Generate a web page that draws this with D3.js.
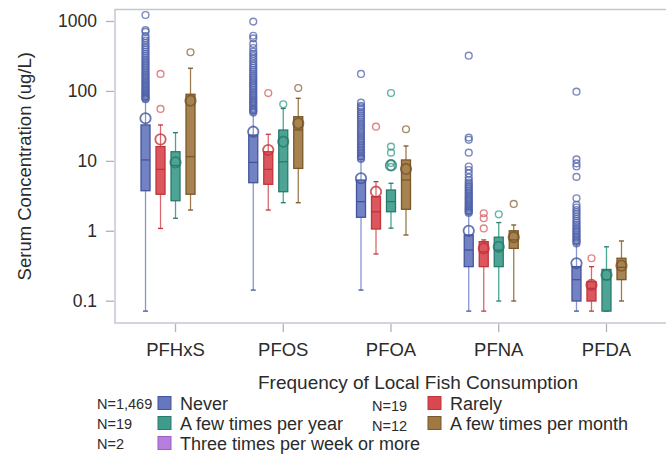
<!DOCTYPE html>
<html>
<head>
<meta charset="utf-8">
<script src="https://cdn.jsdelivr.net/npm/d3@7/dist/d3.min.js"></script>
<style>
  html, body { margin: 0; padding: 0; background: #fff; }
  svg { display: block; font-family: "Liberation Sans", Arial, sans-serif; }
</style>
</head>
<body>
<svg id="chart" width="666" height="458"></svg>
<script>
// Serum PFAS concentrations by frequency of local fish consumption

const compounds = ["PFHxS", "PFOS", "PFOA", "PFNA", "PFDA"];
const groups = ["Never", "Rarely", "A few times per year", "A few times per month", "Three times per week or more"];
const groupN = ["N=1,469", "N=19", "N=19", "N=12", "N=2"];
const yTicks = [0.1, 1, 10, 100, 1000];
const yTickLabels = ["0.1", "1", "10", "100", "1000"];

// Box statistics per compound: [lower whisker, Q1, median, Q3, upper whisker, mean]
const neverStats = [
  [0.071, 3.74, 10.3, 32.6, 75, 40.6],
  [0.142, 4.87, 9.5, 23.4, 48, 26.1],
  [0.142, 1.56, 2.61, 5.32, 10.5, 5.64],
  [0.071, 0.307, 0.531, 0.87, 1.75, 1.0],
  [0.071, 0.099, 0.2, 0.307, 0.65, 0.343]
];
const rarelyStats = [
  [1.08, 3.33, 7.56, 16.0, 32.6, 20.3],
  [1.98, 4.62, 7.56, 13.5, 24, 14.3],
  [0.466, 1.06, 1.87, 3.07, 5.04, 3.62],
  [0.071, 0.307, 0.5, 0.70, 0.74, 0.56],
  [0.071, 0.099, 0.15, 0.187, 0.307, 0.168]
];
const yearStats = [
  [1.51, 2.69, 8.6, 13.5, 25.3, 9.5],
  [2.52, 3.62, 9.7, 27.6, 56, 18.8],
  [1.09, 1.87, 2.61, 3.83, 4.78, 8.6],
  [0.099, 0.307, 0.53, 0.81, 1.31, 0.59],
  [0.071, 0.071, 0.2, 0.28, 0.59, 0.233]
];
const monthStats = [
  [1.98, 3.33, 11.5, 89.6, 211, 72.5],
  [2.52, 7.8, 27.6, 42.8, 78.5, 34.4],
  [0.87, 2.03, 5.32, 10.3, 16.3, 7.66],
  [0.099, 0.56, 0.74, 1.0, 1.21, 0.81],
  [0.099, 0.2, 0.3, 0.405, 0.715, 0.317]
];

// Outlying observations per compound
const neverOutliers = [
  [76, 78, 80, 83, 86, 89, 92, 96, 100, 104, 108, 113, 118, 123, 129, 135, 141, 148, 155, 163, 171, 180, 190, 200, 212, 224, 237, 251, 266, 282, 300, 320, 342, 366, 392, 420, 450, 485, 525, 566, 610, 700, 740, 1218],
  [49, 51, 53, 55, 57, 60, 63, 66, 69, 72, 76, 80, 84, 88, 93, 98, 104, 110, 116, 123, 130, 138, 146, 155, 165, 176, 188, 200, 214, 230, 248, 268, 290, 315, 340, 365, 410, 470, 565, 615, 980],
  [10.6, 11.0, 11.5, 12.0, 12.6, 13.2, 13.9, 14.6, 15.4, 16.2, 17.1, 18.0, 19.0, 20.1, 21.3, 22.6, 24.0, 25.5, 27.1, 28.8, 30.6, 32.5, 34.6, 36.8, 39.2, 41.8, 44.6, 47.6, 50.8, 54.3, 58.0, 61, 68, 175],
  [1.8, 1.86, 1.93, 2.0, 2.08, 2.16, 2.25, 2.35, 2.45, 2.56, 2.68, 2.8, 2.93, 3.07, 3.22, 3.38, 3.55, 3.73, 3.92, 4.13, 4.35, 4.6, 4.9, 5.3, 5.8, 6.6, 7.4, 8.3, 13.1, 20.0, 21.5, 319],
  [0.66, 0.69, 0.72, 0.75, 0.79, 0.83, 0.87, 0.92, 0.97, 1.02, 1.08, 1.15, 1.22, 1.3, 1.38, 1.48, 1.6, 1.72, 1.85, 1.98, 2.15, 2.34, 2.92, 5.9, 8.3, 9.2, 10.5, 97.5]
];
const rarelyOutliers = [[55.2, 175], [93.3], [30.8], [1.08, 1.51, 1.78], [0.405]];
const yearOutliers = [[], [64.4], [8.2, 9.3, 13.1, 16, 93.3], [1.72], []];
const monthOutliers = [[357], [110], [28.3], [2.42], []];

// Colours per group: box fill, outline, whisker, outlier circle
const fillColors = ["#6677bd", "#d8484f", "#3f9c8b", "#a07843", "#b67fdc"];
const strokeColors = ["#42549f", "#c2343b", "#287a6b", "#7a5727", "#9a5fc6"];
const whiskerColors = ["#8895cf", "#d86a6f", "#4aa595", "#9c7a4c", "#b67fdc"];
const outlierColors = ["#4f61aa", "#d45c60", "#33998a", "#86653a", "#b67fdc"];

const series = [
  { stats: neverStats, outliers: neverOutliers },
  { stats: rarelyStats, outliers: rarelyOutliers },
  { stats: yearStats, outliers: yearOutliers },
  { stats: monthStats, outliers: monthOutliers },
  { stats: null, outliers: null }
];

const svg = d3.select("#chart");
const plot = { left: 115, right: 666, top: 9.5, bottom: 323 };

const x = d3.scalePoint().domain(compounds).range([plot.left, plot.right]).padding(0.557);
const inner = d3.scaleBand().domain(groups).range([-37, 38]);
const y = d3.scaleLog().domain([0.048, 1460]).range([plot.bottom, plot.top]);

const textColor = "#2b2b2b";
const gridGray = "#c3c7cf";

// Frame around the plot area
svg.append("rect")
  .attr("x", plot.left).attr("y", plot.top)
  .attr("width", plot.right - plot.left + 4).attr("height", plot.bottom - plot.top)
  .attr("fill", "none").attr("stroke", gridGray).attr("stroke-width", 1.5);

// Y axis
const yAxis = svg.append("g")
  .attr("transform", `translate(${plot.left - 1},0)`)
  .call(d3.axisLeft(y).tickValues(yTicks)
    .tickFormat((d, i) => yTickLabels[i]).tickSize(8).tickPadding(9).tickSizeOuter(0));
yAxis.select(".domain").remove();
yAxis.selectAll(".tick line").attr("stroke", "#aeb3bc").attr("stroke-width", 1.3);
yAxis.selectAll(".tick text").attr("fill", textColor)
  .style("font-size", "17.5px").style("font-family", "Liberation Sans, Arial, sans-serif");

// X axis
const xAxis = svg.append("g")
  .attr("transform", `translate(0,${plot.bottom + 1})`)
  .call(d3.axisBottom(x).tickSize(8).tickPadding(11).tickSizeOuter(0));
xAxis.select(".domain").remove();
xAxis.selectAll(".tick line").attr("stroke", "#aeb3bc").attr("stroke-width", 1.3);
xAxis.selectAll(".tick text").attr("fill", textColor)
  .style("font-size", "18.5px").style("font-family", "Liberation Sans, Arial, sans-serif");

// Y axis title
svg.append("text")
  .attr("transform", `translate(31,${(plot.top + plot.bottom) / 2}) rotate(-90)`)
  .attr("text-anchor", "middle")
  .attr("fill", textColor)
  .style("font-size", "18.5px")
  .text("Serum Concentration (ug/L)");

// Box plots
const boxW = 9;
const capW = 5;
const marks = svg.append("g");

series.forEach((s, gi) => {
  if (!s.stats) return;
  const g = marks.append("g");
  compounds.forEach((c, ci) => {
    const [lo, q1, med, q3, hi, mean] = s.stats[ci];
    const cx = x(c) + inner(groups[gi]) + inner.bandwidth() / 2;

    // whiskers and caps
    g.append("line").attr("x1", cx).attr("x2", cx).attr("y1", y(lo)).attr("y2", y(q1))
      .attr("stroke", whiskerColors[gi]).attr("stroke-width", 1.3);
    g.append("line").attr("x1", cx).attr("x2", cx).attr("y1", y(q3)).attr("y2", y(hi))
      .attr("stroke", whiskerColors[gi]).attr("stroke-width", 1.3);
    [lo, hi].forEach(v => {
      g.append("line").attr("x1", cx - capW / 2).attr("x2", cx + capW / 2)
        .attr("y1", y(v)).attr("y2", y(v))
        .attr("stroke", strokeColors[gi]).attr("stroke-width", 1.3);
    });

    // box
    g.append("rect")
      .attr("x", cx - boxW / 2).attr("y", y(q3))
      .attr("width", boxW).attr("height", Math.max(1, y(q1) - y(q3)))
      .attr("fill", fillColors[gi]).attr("fill-opacity", 0.92)
      .attr("stroke", strokeColors[gi]).attr("stroke-width", 1.3);

    // median
    g.append("line").attr("x1", cx - boxW / 2).attr("x2", cx + boxW / 2)
      .attr("y1", y(med)).attr("y2", y(med))
      .attr("stroke", strokeColors[gi]).attr("stroke-width", 1.3);

    // outliers
    g.selectAll(null).data(s.outliers[ci]).join("circle")
      .attr("cx", cx).attr("cy", d => y(d)).attr("r", 3.4)
      .attr("fill", "none").attr("stroke", outlierColors[gi])
      .attr("stroke-opacity", 0.75).attr("stroke-width", 1.4);

    // mean
    g.append("circle")
      .attr("cx", cx).attr("cy", y(mean)).attr("r", 5.2)
      .attr("fill", "none").attr("stroke", strokeColors[gi])
      .attr("stroke-opacity", 0.8).attr("stroke-width", 1.8);
  });
});

// Legend
svg.append("text")
  .attr("x", 418).attr("y", 389)
  .attr("text-anchor", "middle").attr("fill", textColor)
  .style("font-size", "19px")
  .text("Frequency of Local Fish Consumption");

const legendPos = [
  { nx: 97, sx: 158, row: 0 },
  { nx: 372, sx: 428, row: 0 },
  { nx: 97, sx: 158, row: 1 },
  { nx: 372, sx: 428, row: 1 },
  { nx: 97, sx: 158, row: 2 }
];
const rowY = [403, 423, 443];

groups.forEach((name, gi) => {
  const p = legendPos[gi];
  const cy = rowY[p.row];
  svg.append("text")
    .attr("x", p.nx).attr("y", cy + 6 + (p.nx > 200 ? 2 : 0))
    .attr("fill", textColor).style("font-size", "14.5px")
    .text(groupN[gi]);
  svg.append("rect")
    .attr("x", p.sx).attr("y", cy - 6.5)
    .attr("width", 13).attr("height", 13)
    .attr("fill", fillColors[gi]).attr("stroke", strokeColors[gi]).attr("stroke-width", 1);
  svg.append("text")
    .attr("x", p.sx + 22).attr("y", cy + 6.5)
    .attr("fill", textColor).style("font-size", "18px")
    .text(name);
});
</script>
</body>
</html>
